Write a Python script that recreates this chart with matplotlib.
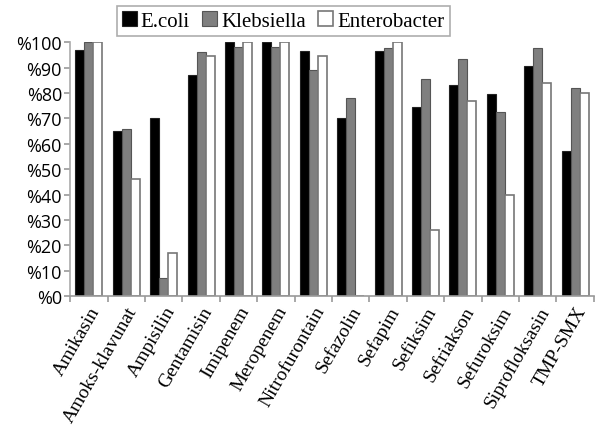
import matplotlib.pyplot as plt
import numpy as np

drugs = ["Amikasin", "Amoks-klavunat", "Ampisilin", "Gentamisin", "Imipenem",
         "Meropenem", "Nitrofurontain", "Sefazolin", "Sefapim", "Sefiksim",
         "Sefriakson", "Sefuroksim", "Siprofloksasin", "TMP-SMX"]
ecoli = [97, 65, 70, 87, 100, 100, 96.5, 70, 96.5, 74.5, 83, 79.5, 90.5, 57]
klebsiella = [100, 66, 7, 96, 98, 98, 89, 78, 97.5, 85.5, 93.5, 72.5, 97.5, 82]
enterobacter = [100, 46, 17, 94.5, 100, 100, 94.5, 0, 100, 26, 77, 40, 84, 80]
yticks = list(range(0, 101, 10))

fig = plt.figure(figsize=(5.95, 4.27), dpi=100)
ax = fig.add_axes([0.118, 0.304, 0.88, 0.595])

x = np.arange(len(drugs))
w = 0.24
ax.bar(x - w, ecoli, w, color="black", edgecolor="#222222", linewidth=0.8, label="E.coli")
ax.bar(x, klebsiella, w, color="#7f7f7f", edgecolor="#555555", linewidth=0.8, label="Klebsiella")
ax.bar(x + w, enterobacter, w, color="white", edgecolor="#777777", linewidth=1.2, label="Enterobacter")

ax.set_xlim(-0.5, len(drugs) - 0.5)
ax.set_ylim(0, 100)
ax.set_yticks(yticks)
ax.set_yticklabels(["%" + str(v) for v in yticks], fontsize=13, family="Open Sans")
ax.set_xticks(x)
ax.set_xticklabels(drugs, rotation=60, ha="right", rotation_mode="anchor",
                   fontsize=14, family=["Liberation Serif", "DejaVu Serif"])
ax.set_xticks(np.arange(-0.5, len(drugs), 1), minor=True)
ax.tick_params(axis="x", which="major", length=0, pad=5)
ax.tick_params(axis="x", which="minor", length=4, color="#999999", width=1.2)
ax.tick_params(axis="y", length=4, color="#999999", width=1.2, pad=2)

for s in ["top", "right"]:
    ax.spines[s].set_visible(False)
ax.spines["left"].set_color("#aaaaaa")
ax.spines["bottom"].set_color("#999999")
ax.spines["left"].set_linewidth(1.2)
ax.spines["bottom"].set_linewidth(1.2)

leg = fig.legend(loc="center", bbox_to_anchor=(0.476, 0.948), ncol=3,
                 handlelength=0.7, handleheight=0.7, handletextpad=0.2,
                 columnspacing=0.6, borderpad=0.25, fancybox=False,
                 prop={"family": ["Liberation Serif", "DejaVu Serif"], "size": 15})
leg.get_frame().set_edgecolor("#999999")
leg.get_frame().set_linewidth(1.2)

plt.savefig("out.png", dpi=100)
